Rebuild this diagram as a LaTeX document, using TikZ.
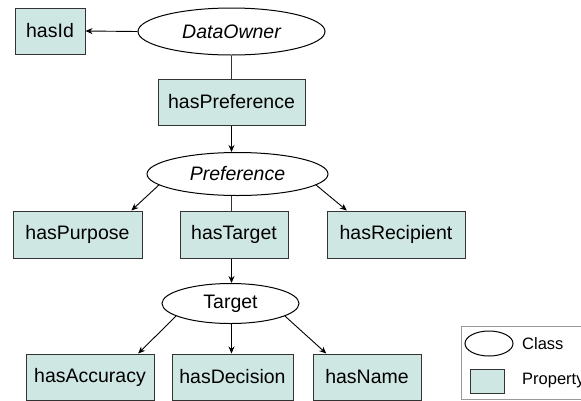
\documentclass[tikz,border=0pt]{standalone}
\usepackage{fontspec}
\setmainfont{Liberation Sans}
\usetikzlibrary{positioning,calc,shapes.geometric,arrows.meta}
\colorlet{colorProp}{rgb,255:red,207;green,231;blue,227}
\colorlet{colorBorder}{black!80}
\colorlet{colorLegend}{gray!80}
\tikzset{
   every path/.style={>={Stealth[length=7pt,width=6pt]}},
   prop/.style={rectangle,draw=colorBorder,fill=colorProp,line width=1pt,minimum height=47pt,inner sep=0pt,font=\fontsize{19.5}{23}\selectfont},
   cls/.style={ellipse,draw=black,fill=white,line width=1pt,inner sep=0pt,font=\fontsize{19.5}{23}\selectfont},
   rel/.style={->,color=black,line width=0.9pt},
   link/.style={-,color=black!80,line width=0.9pt},
   legtext/.style={anchor=west,inner sep=0pt,font=\fontsize{16.5}{19}\selectfont},
}
\begin{document}
\begin{tikzpicture}[x=1pt, y=-1pt]
    \useasboundingbox (0,0) rectangle (581,400);

    \node[cls, minimum width=187pt, minimum height=47pt] (owner) at (231.5,31.5) {\itshape DataOwner};
    \node[prop, minimum width=70pt, minimum height=46pt] (hasid) at (50,31) {hasId};
    \node[prop, minimum width=147pt, minimum height=46pt] (haspref) at (231.5,102) {hasPreference};

    \draw[rel]  (owner.west) -- (hasid.east);
    \draw[link] (owner.south) -- (haspref.north);

    \node[cls, minimum width=181pt, minimum height=43pt] (pref) at (237.5,174) {\itshape Preference};
    \node[prop, minimum width=129pt] (haspurpose) at (77.5,234.5) {hasPurpose};
    \node[prop, minimum width=108pt] (hastarget) at (234,234.5) {hasTarget};
    \node[prop, minimum width=138pt] (hasrecip) at (396,234.5) {hasRecipient};

    \draw[rel]  (haspref.south) -- (haspref.south |- pref.north);
    \draw[rel]  (pref.188) -- (haspurpose.24);
    \draw[link] (haspref.south |- pref.south) -- (haspref.south |- hastarget.north);
    \draw[rel]  (pref.352) -- (hasrecip.154);

    \node[cls, minimum width=137pt, minimum height=40pt] (target) at (230.5,303.5) {Target};
    \node[prop, minimum width=128pt, minimum height=46pt] (hasacc) at (90,377) {hasAccuracy};
    \node[prop, minimum width=121pt, minimum height=46pt] (hasdec) at (232.5,377) {hasDecision};
    \node[prop, minimum width=108pt, minimum height=46pt] (hasname) at (367,377) {hasName};

    \draw[rel] (haspref.south |- hastarget.south) -- (haspref.south |- target.north);
    \draw[rel] (target.193) -- (hasacc.26);
    \draw[rel] (haspref.south |- target.south) -- (haspref.south |- hasdec.north);
    \draw[rel] (target.347) -- (hasname.150);

    % legend
    \draw[colorLegend, line width=1pt] (461,326) rectangle (600,399);
    \node[cls, minimum width=48pt, minimum height=25pt] (legcls) at (489,343.5) {};
    \node[legtext] (legclstext) at (522,343.5) {Class};
    \node[prop, minimum width=34pt, minimum height=24pt] (legprop) at (487,381) {};
    \node[legtext] (legproptext) at (522,381) {Property};
\end{tikzpicture}
\end{document}
